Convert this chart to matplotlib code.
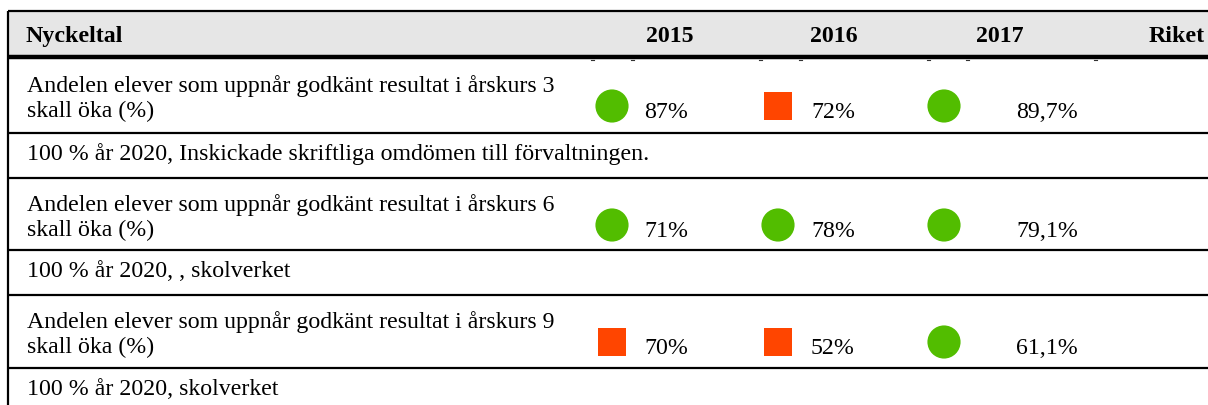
import matplotlib
matplotlib.use("Agg")
import matplotlib.pyplot as plt
from matplotlib.patches import Rectangle

# ---------------------------
# Table content
# ---------------------------
headers = ["Nyckeltal", "2015", "2016", "2017", "Riket"]
kpi_labels = [
    "Andelen elever som uppnår godkänt resultat i årskurs 3\nskall öka (%)",
    "Andelen elever som uppnår godkänt resultat i årskurs 6\nskall öka (%)",
    "Andelen elever som uppnår godkänt resultat i årskurs 9\nskall öka (%)",
]
notes = [
    "100 % år 2020, Inskickade skriftliga omdömen till förvaltningen.",
    "100 % år 2020, , skolverket",
    "100 % år 2020, skolverket",
]
values_2015 = ["87%", "71%", "70%"]
values_2016 = ["72%", "78%", "52%"]
values_2017 = ["89,7%", "79,1%", "61,1%"]
status_2015 = ["ok", "ok", "bad"]
status_2016 = ["bad", "ok", "bad"]
status_2017 = ["ok", "ok", "ok"]

# ---------------------------
# Layout (pixel coordinates)
# ---------------------------
W, H = 1208, 405
font = "Liberation Serif"
fs = 17.2
green = "#52bd00"
red = "#ff4500"

data_tops = [59, 178, 295]
note_tops = [133, 250, 368]
row_lines = [133, 178, 250, 295, 368]
marker_x = [612, 778, 944]
value_x = [644, 811, 1016]
header_x = [25, 670, 834, 1000, 1205]
header_ha = ["left", "center", "center", "center", "right"]

fig = plt.figure(figsize=(W / 100, H / 100), dpi=100)
ax = fig.add_axes([0, 0, 1, 1])
ax.set_xlim(0, W)
ax.set_ylim(H, 0)
ax.axis("off")

# header
ax.add_patch(Rectangle((8, 11), W - 8, 45, facecolor="#e6e6e6", edgecolor="none"))
ax.plot([8, W], [11, 11], color="black", lw=1.6, solid_capstyle="butt")
ax.plot([8, W], [57, 57], color="black", lw=3.2, solid_capstyle="butt")
ax.plot([8, 8], [11, H], color="black", lw=1.6, solid_capstyle="butt")
for hx, txt, ha in zip(header_x, headers, header_ha):
    ax.text(hx, 42, txt, ha=ha, va="baseline", fontsize=fs, fontweight="bold",
            fontfamily=font, color="black")

# faint cell-border remnants under the header
for tx in [592, 632, 760, 800, 928, 967, 1095]:
    ax.plot([tx - 1.5, tx + 1.5], [60, 60], color="#333333", lw=0.8)

for y in row_lines:
    ax.plot([8, W], [y, y], color="black", lw=1.6, solid_capstyle="butt")

columns = [(values_2015, status_2015), (values_2016, status_2016), (values_2017, status_2017)]

for i, top in enumerate(data_tops):
    line1, line2 = kpi_labels[i].split("\n")
    ax.text(27, top + 33, line1, ha="left", va="baseline", fontsize=fs, fontfamily=font)
    ax.text(27, top + 58, line2, ha="left", va="baseline", fontsize=fs, fontfamily=font)
    for j, (vals, stats) in enumerate(columns):
        if stats[i] == "ok":
            ax.scatter(marker_x[j], top + 47, s=570, marker="o", color=green,
                       edgecolors="none", zorder=3)
        else:
            ax.scatter(marker_x[j], top + 47, s=435, marker="s", color=red,
                       edgecolors="none", zorder=3)
        ax.text(value_x[j], top + 59, vals[i], ha="left", va="baseline",
                fontsize=fs, fontfamily=font)

for top, note in zip(note_tops, notes):
    ax.text(27, top + 27, note, ha="left", va="baseline", fontsize=fs, fontfamily=font)

fig.savefig("out.png", dpi=100)
